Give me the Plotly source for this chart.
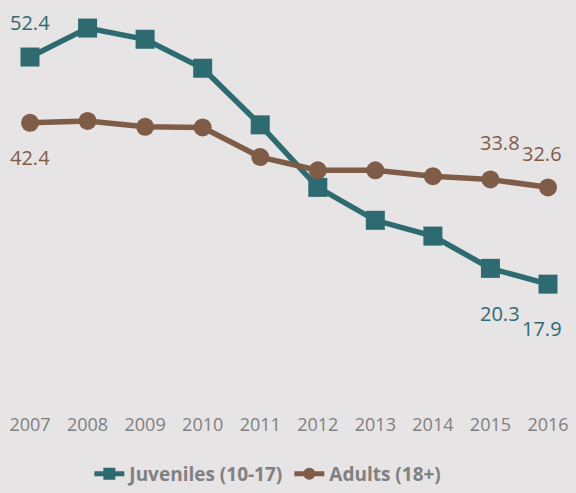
import plotly.graph_objects as go

years = [2007, 2008, 2009, 2010, 2011, 2012, 2013, 2014, 2015, 2016]
juveniles = [52.4, 56.8, 55.1, 50.7, 42.1, 32.6, 27.6, 25.2, 20.3, 17.9]
adults = [42.4, 42.7, 41.8, 41.7, 37.2, 35.2, 35.2, 34.3, 33.8, 32.6]

TEAL = "#2e6b70"
BROWN = "#7f5c47"
BG = "#e6e4e5"
GRAY = "#808080"

fig = go.Figure()
fig.add_trace(go.Scatter(
    x=years, y=juveniles, name="Juveniles (10-17)", mode="lines+markers",
    line=dict(color=TEAL, width=5.5), marker=dict(symbol="square", size=19, color=TEAL),
    cliponaxis=False))
fig.add_trace(go.Scatter(
    x=years, y=adults, name="Adults (18+)", mode="lines+markers",
    line=dict(color=BROWN, width=5.5), marker=dict(symbol="circle", size=18, color=BROWN),
    cliponaxis=False))

labels = [
    (0, juveniles, TEAL, 0, 35),
    (0, adults, BROWN, 0, -35),
    (8, adults, BROWN, 10, 37),
    (9, adults, BROWN, -6, 34),
    (8, juveniles, TEAL, 10, -45),
    (9, juveniles, TEAL, -6, -44),
]
for i, series, col, xs, ys in labels:
    fig.add_annotation(x=years[i], y=series[i], text=f"{series[i]:.1f}", showarrow=False,
                       xshift=xs, yshift=ys, font=dict(color=col, size=20, family="Open Sans"))

fig.update_layout(
    width=576, height=493,
    paper_bgcolor=BG, plot_bgcolor=BG,
    margin=dict(l=30, r=25, t=7, b=91),
    font=dict(family="Open Sans", color=GRAY),
    showlegend=True,
    legend=dict(orientation="h", xref="container", yref="container",
                x=0.465, xanchor="center", y=-0.022, yanchor="bottom",
                itemsizing="constant", tracegroupgap=0,
                font=dict(size=19, color=GRAY, family="Open Sans", weight="bold"),
                bgcolor="rgba(0,0,0,0)"),
    xaxis=dict(range=[2007, 2016], tickmode="array", tickvals=years,
               ticktext=[str(y) for y in years], showgrid=False, zeroline=False,
               showline=False, ticks="outside", ticklen=6, tickcolor=BG,
               tickfont=dict(size=18, color=GRAY, family="Open Sans")),
    yaxis=dict(range=[0, 60], visible=False, showgrid=False, zeroline=False),
)

fig.write_html("out.html", config={"displayModeBar": False},
               post_script="document.body.style.margin='0';document.body.style.overflow='hidden';")
